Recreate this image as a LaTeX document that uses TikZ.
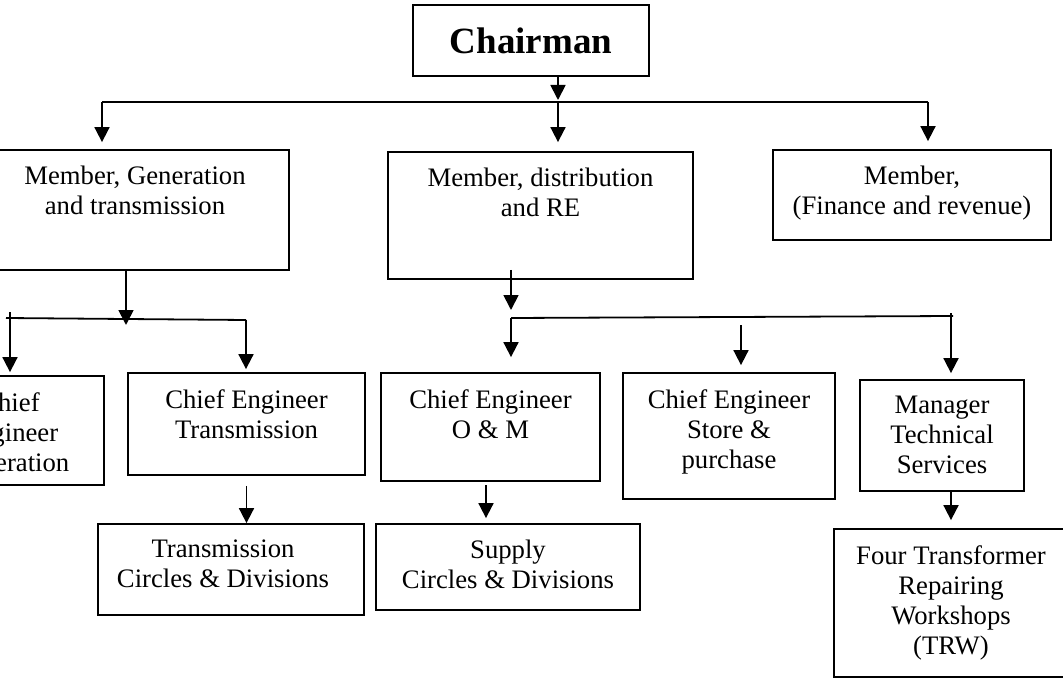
\documentclass[tikz,border=0pt]{standalone}
\usepackage{fontspec}
\setmainfont{Liberation Serif}
\usetikzlibrary{arrows.meta}

\begin{document}
\begin{tikzpicture}[
		x=1pt, y=-1pt,
		box/.style={rectangle,draw,line width=1.8pt,inner sep=0pt},
		txt/.style={below,inner sep=0pt,align=center,yshift=-17pt},
		link/.style={->,line width=1.8pt},
		>={Triangle[width=15pt,length=15pt]},
		font=\fontsize{26.7}{30}\selectfont]
	\useasboundingbox (0,0) rectangle (1063,679);
	\clip (0,0) rectangle (1063,679);
	%% define boxes
	\node (chair) at (531,40.5) [box, minimum width=236pt, minimum height=71pt, font=\fontsize{37}{40}\selectfont\bfseries] {Chairman};
	\node (gen) at (135,210) [box, minimum width=308pt, minimum height=120pt, label={[txt]north:{Member, Generation\\and transmission}}] {};
	\node (dist) at (540.5,215.5) [box, minimum width=305pt, minimum height=127pt, label={[txt]north:{Member, distribution\\and RE}}] {};
	\node (fin) at (912,195) [box, minimum width=278pt, minimum height=90pt, label={[txt]north:{Member,\\(Finance and revenue)}}] {};
	\node (ceg) at (5,430.5) [box, minimum width=198pt, minimum height=109pt, label={[txt,xshift=5pt]north:{Chief\\Engineer\\Generation}}] {};
	\node (cet) at (246.5,424) [box, minimum width=237pt, minimum height=102pt, label={[txt]north:{Chief Engineer\\Transmission}}] {};
	\node (tc) at (231,569.5) [box, minimum width=266pt, minimum height=91pt, label={[txt,xshift=-8pt]north:{Transmission\\Circles \& Divisions}}] {};
	\node (om) at (490.5,427) [box, minimum width=219pt, minimum height=108pt, label={[txt]north:{Chief Engineer\\O \& M}}] {};
	\node (sup) at (508,567) [box, minimum width=264pt, minimum height=86pt, label={[txt]north:{Supply\\Circles \& Divisions}}] {};
	\node (store) at (729,436) [box, minimum width=212pt, minimum height=126pt, label={[txt]north:{Chief Engineer\\Store \&\\purchase}}] {};
	\node (mgr) at (942,435.5) [box, minimum width=164pt, minimum height=111pt, label={[txt]north:{Manager\\Technical\\Services}}] {};
	\node (four) at (951,603) [box, minimum width=234pt, minimum height=148pt, label={[txt]north:{Four Transformer\\Repairing\\Workshops\\(TRW)}}] {};
	%% connectors from chairman
	\coordinate (tbus) at (558,102);
	\coordinate (tbusl) at (102,102);
	\coordinate (tbusr) at (928,102);
	\draw[link, shorten >=2pt] (chair.south -| tbus) -- (tbus);
	\draw[line width=1.8pt] (tbusl) -- (tbusr);
	\draw[link, shorten >=7pt] (tbusl) -- (tbusl |- gen.north);
	\draw[link, shorten >=9pt] (tbus) -- (tbus |- dist.north);
	\draw[link, shorten >=8pt] (tbusr) -- (tbusr |- fin.north);
	%% generation branch
	\coordinate (gbusl) at (10,318);
	\coordinate (gbusm) at (126,319);
	\coordinate (gbusr) at (246,320);
	\draw[link, shorten >=-6pt] (gen.south -| gbusm) -- (gbusm);
	\draw[line width=1.8pt] ([xshift=-4pt]gbusl) -- (gbusr);
	\draw[link, shorten >=3pt] ([yshift=6pt]gbusl) -- (gbusl |- ceg.north);
	\draw[link, shorten >=3pt] (gbusr) -- (gbusr |- cet.north);
	\draw[link, shorten <=10pt] (cet.south) -- (cet.south |- tc.north);
	%% distribution branch
	\coordinate (dbusl) at (511,318);
	\coordinate (dbusm) at (741,317);
	\coordinate (dbusr) at (951,316);
	\draw[link, shorten <=-10pt, shorten >=8pt] (dist.south -| dbusl) -- (dbusl);
	\draw[line width=1.8pt] (dbusl) -- ([xshift=2pt]dbusr);
	\draw[link, shorten >=15pt] (dbusl) -- (dbusl |- om.north);
	\draw[link, shorten <=8pt, shorten >=7pt] (dbusm) -- (dbusm |- store.north);
	\draw[link, shorten >=6pt] ([yshift=3pt]dbusr) -- (dbusr |- mgr.north);
	%% lower arrows
	\coordinate (omsup) at (486,485);
	\coordinate (mgrfour) at (951,491);
	\draw[link, shorten >=5pt] (omsup) -- (omsup |- sup.north);
	\draw[link, shorten >=8pt] (mgrfour) -- (mgrfour |- four.north);
\end{tikzpicture}
\end{document}
